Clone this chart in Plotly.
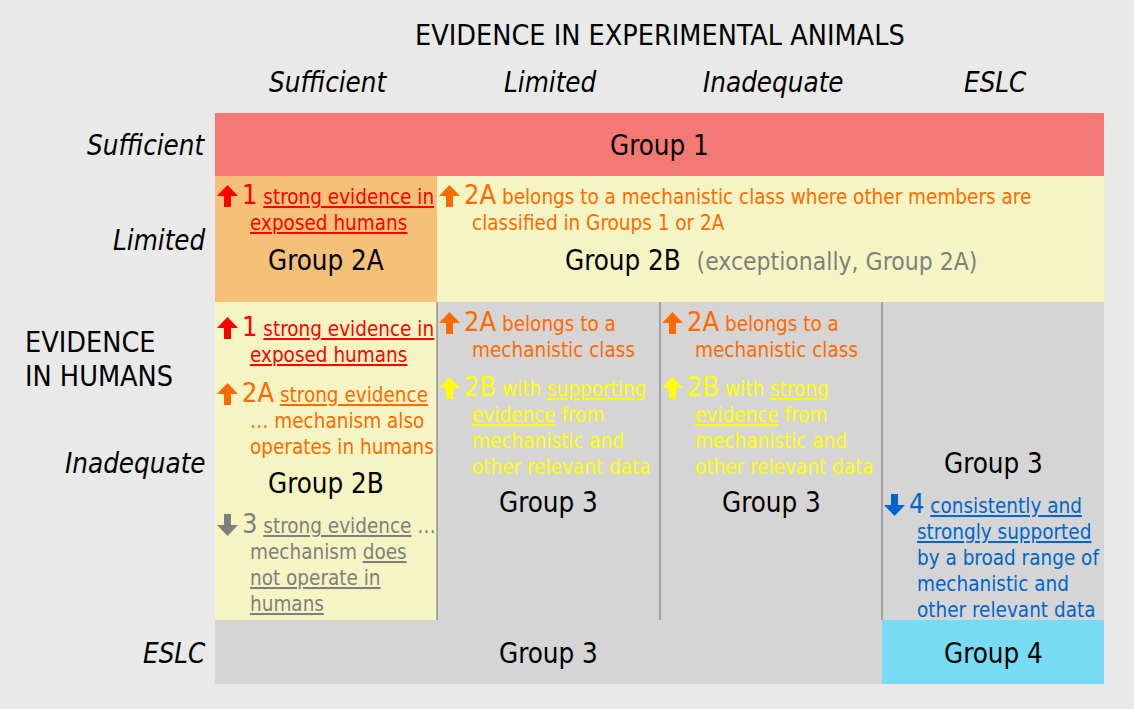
import plotly.graph_objects as go

W, H = 1134, 709
FONT = "DejaVu Sans Condensed, DejaVu Sans, sans-serif"
BG = "#e9e9e9"

# ---------------- data ----------------
title_text = "EVIDENCE IN EXPERIMENTAL ANIMALS"
side_title_lines = ["EVIDENCE", "IN HUMANS"]
animal_categories = ["Sufficient", "Limited", "Inadequate", "ESLC"]
human_categories = ["Sufficient", "Limited", "Inadequate", "ESLC"]

# cells of the matrix: row (human evidence), column span (animal evidence), group
cell_rows = [0, 1, 1, 2, 2, 2, 2, 3, 3]
cell_col_start = [0, 0, 1, 0, 1, 2, 3, 0, 3]
cell_col_end = [4, 1, 4, 1, 2, 3, 4, 3, 4]
cell_groups = ["Group 1", "Group 2A", "Group 2B", "Group 2B", "Group 3",
               "Group 3", "Group 3", "Group 3", "Group 4"]
cell_suffix = ["", "", "(exceptionally, Group 2A)", "", "", "", "", "", ""]

# up/down-grading notes inside cells
note_row = [1, 1, 2, 2, 2, 2, 2, 2, 2, 2]
note_col = [0, 1, 0, 0, 0, 1, 1, 2, 2, 3]
note_level = ["1", "2A", "1", "2A", "3", "2A", "2B", "2A", "2B", "4"]
note_lines = [
    ["<u>strong evidence in</u>", "<u>exposed humans</u>"],
    ["belongs to a mechanistic class where other members are", "classified in Groups 1 or 2A"],
    ["<u>strong evidence in</u>", "<u>exposed humans</u>"],
    ["<u>strong evidence</u>", "\u2026 mechanism also", "operates in humans"],
    ["<u>strong evidence</u> \u2026", "mechanism <u>does</u>", "<u>not operate in</u>", "<u>humans</u>"],
    ["belongs to a", "mechanistic class"],
    ["with <u>supporting</u>", "<u>evidence</u> from", "mechanistic and", "other relevant data"],
    ["belongs to a", "mechanistic class"],
    ["with <u>strong</u>", "<u>evidence</u> from", "mechanistic and", "other relevant data"],
    ["<u>consistently and</u>", "<u>strongly supported</u>", "by a broad range of",
     "mechanistic and", "other relevant data"],
]

# ---------------- layout / style ----------------
col_edges = [215, 437, 660, 882, 1104]
row_edges = [113, 176, 302, 620, 684]
group_colors = {"Group 1": "#f47874", "Group 2A": "#f5c179", "Group 2B": "#f5f5c3",
                "Group 3": "#d5d5d5", "Group 4": "#77dbf3"}
cell_label_y = [145, 260, 260, 483, 502, 502, 463, 653, 653]
note_first_y = [196, 196, 328, 394, 525, 323, 388, 323, 388, 505]
level_colors = {"1": "#ff0000", "2A": "#ff6a00", "2B": "#ffff00", "3": "#7f7f7f", "4": "#0066cc"}
level_dir = {"1": "up", "2A": "up", "2B": "up", "3": "down", "4": "down"}
LINE_H = 26
BODY = 20.5
NUM = 27
LABEL = 27.5

fig = go.Figure()
shapes = []
annotations = []

# cells
for r, c0, c1, g in zip(cell_rows, cell_col_start, cell_col_end, cell_groups):
    shapes.append(dict(type="rect", xref="x", yref="y",
                       x0=col_edges[c0], x1=col_edges[c1],
                       y0=row_edges[r], y1=row_edges[r + 1],
                       fillcolor=group_colors[g], line=dict(width=0), layer="below"))

# separators in the "inadequate" row
for c in (1, 2, 3):
    shapes.append(dict(type="line", xref="x", yref="y",
                       x0=col_edges[c], x1=col_edges[c],
                       y0=row_edges[2], y1=row_edges[3],
                       line=dict(color="#6f6f6f", width=1)))

# group labels
for r, c0, c1, g, suf, ly in zip(cell_rows, cell_col_start, cell_col_end,
                                 cell_groups, cell_suffix, cell_label_y):
    txt = g
    if suf:
        txt = (g + "\u00a0\u00a0<span style='color:#7f7f7f;font-size:24.5px'>"
               + suf + "</span>")
    annotations.append(dict(x=(col_edges[c0] + col_edges[c1]) / 2, y=ly, text=txt,
                            xanchor="center", yanchor="middle", showarrow=False,
                            font=dict(size=LABEL, color="#000000", family=FONT)))

# notes
def arrow_path(cx, cy, direction):
    hw, hh, sw, half = 10.5, 11, 3.5, 11
    t, b = cy - half, cy + half
    if direction == "up":
        return (f"M {cx},{t} L {cx+hw},{t+hh} L {cx+sw},{t+hh} L {cx+sw},{b} "
                f"L {cx-sw},{b} L {cx-sw},{t+hh} L {cx-hw},{t+hh} Z")
    return (f"M {cx},{b} L {cx+hw},{b-hh} L {cx+sw},{b-hh} L {cx+sw},{t} "
            f"L {cx-sw},{t} L {cx-sw},{b-hh} L {cx-hw},{b-hh} Z")

for r, c, lvl, lines, y0 in zip(note_row, note_col, note_level, note_lines, note_first_y):
    x0 = col_edges[c]
    colr = level_colors[lvl]
    shapes.append(dict(type="path", xref="x", yref="y",
                       path=arrow_path(x0 + 12.5, y0, level_dir[lvl]),
                       fillcolor=colr, line=dict(width=0)))
    for i, ln in enumerate(lines):
        if i == 0:
            txt = f"<span style='font-size:{NUM}px'>{lvl}</span> {ln}"
            xx = x0 + 25
            yy = y0 - 2
        else:
            txt = ln
            xx = x0 + 33
            yy = y0 + 1 + i * LINE_H
        annotations.append(dict(x=xx, y=yy, text=txt,
                                xanchor="left", yanchor="middle", showarrow=False,
                                font=dict(size=BODY, color=colr, family=FONT)))

# headers
annotations.append(dict(x=660, y=35, text=title_text, xanchor="center", yanchor="middle",
                        showarrow=False, font=dict(size=28.5, color="#000000", family=FONT)))
for i, cat in enumerate(animal_categories):
    annotations.append(dict(x=(col_edges[i] + col_edges[i + 1]) / 2 + 2, y=82,
                            text=f"<i>{cat}</i>", xanchor="center", yanchor="middle",
                            showarrow=False, font=dict(size=LABEL, color="#000000", family=FONT)))
row_label_y = [145, 240, 463, 653]
for cat, ly in zip(human_categories, row_label_y):
    annotations.append(dict(x=208, y=ly, text=f"<i>{cat}</i>", xanchor="right",
                            yanchor="middle", showarrow=False,
                            font=dict(size=LABEL, color="#000000", family=FONT)))
for i, ln in enumerate(side_title_lines):
    annotations.append(dict(x=23, y=342 + 34 * i, text=ln, xanchor="left", yanchor="middle",
                            showarrow=False, font=dict(size=28.5, color="#000000", family=FONT)))

fig.update_layout(
    width=W, height=H, margin=dict(l=0, r=0, t=0, b=0),
    paper_bgcolor=BG, plot_bgcolor=BG,
    xaxis=dict(range=[0, W], visible=False, fixedrange=True),
    yaxis=dict(range=[H, 0], visible=False, fixedrange=True),
    shapes=shapes, annotations=annotations, showlegend=False,
)

fig.write_html("out.html", config={"displayModeBar": False},
               post_script="document.body.style.margin='0';document.body.style.overflow='hidden';")
